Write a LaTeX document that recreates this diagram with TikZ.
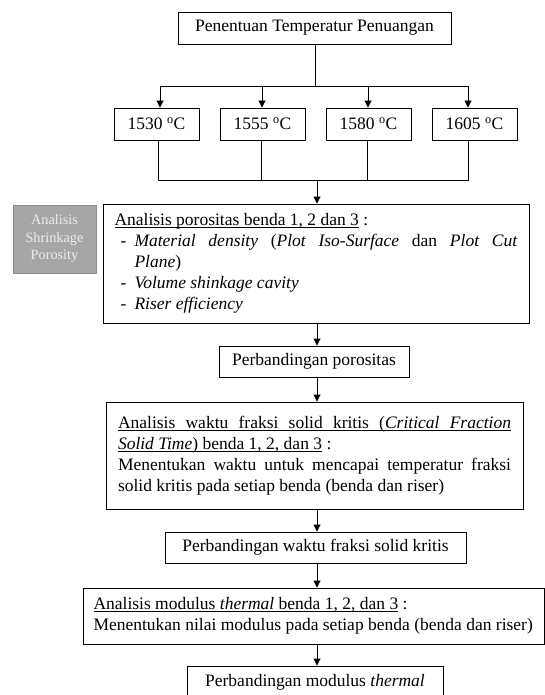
\documentclass[tikz,border=0pt]{standalone}
\usepackage{fontspec}
\setmainfont{Liberation Serif}
\usetikzlibrary{arrows.meta}
\newcommand{\ulx}[1]{\leavevmode\setbox0=\hbox{#1}\rlap{\rule[-2.2pt]{\wd0}{0.7pt}}\box0\relax}
\newcommand{\jline}[2]{\makebox[#1][s]{\spaceskip=0pt\xspaceskip=0pt #2}}
\newcommand{\itm}{\makebox[20pt][l]{\hspace{6pt}-}}
\definecolor{grayfill}{HTML}{A6A6A6}
\definecolor{graybd}{HTML}{8C8C8C}
\definecolor{graytxt}{HTML}{EDEDED}
\begin{document}
\begin{tikzpicture}[x=1pt,y=-1pt,
  box/.style={draw=black,line width=0.9pt,inner sep=0pt,font=\fontsize{17.5pt}{21pt}\selectfont,align=center,
    execute at begin node={\spaceskip=0pt\xspaceskip=0pt}},
  arr/.style={line width=0.9pt,-{Triangle[length=7pt,width=7pt]}},
  ln/.style={line width=0.9pt}]
\useasboundingbox (0,0) rectangle (545,695);
\clip (0,0) rectangle (545,695);

% top
\node[box,minimum width=273pt,minimum height=32pt] (top) at (314.5,28) {Penentuan Temperatur Penuangan};
% temperatures
\node[box,minimum width=85pt,minimum height=32pt] (t1) at (156.5,124) {1530 \textsuperscript{o}C};
\node[box,minimum width=85pt,minimum height=32pt] (t2) at (262.5,124) {1555 \textsuperscript{o}C};
\node[box,minimum width=85pt,minimum height=32pt] (t3) at (368.5,124) {1580 \textsuperscript{o}C};
\node[box,minimum width=85pt,minimum height=32pt] (t4) at (474.5,124) {1605 \textsuperscript{o}C};

% upper bus
\coordinate (s0) at (315,86);
\coordinate (s1) at (160,86);
\coordinate (s2) at (262,86);
\coordinate (s3) at (368,86);
\coordinate (s4) at (468,86);
\draw[ln] (top.south -| s0) -- (s0);
\draw[ln] (s1) -- (s4);
\draw[arr] (s1) -- (s1 |- t1.north);
\draw[arr] (s2) -- (s2 |- t2.north);
\draw[arr] (s3) -- (s3 |- t3.north);
\draw[arr] (s4) -- (s4 |- t4.north);

% lower bus
\coordinate (u1) at (158,180);
\coordinate (u2) at (261,180);
\coordinate (u3) at (367,180);
\coordinate (u4) at (468,180);
\coordinate (u0) at (317,180);
\draw[ln] (t1.south -| u1) -- (u1) -- (u4) -- (t4.south -| u4);
\draw[ln] (t2.south -| u2) -- (u2);
\draw[ln] (t3.south -| u3) -- (u3);

% gray side box
\node[draw=graybd,line width=0.8pt,fill=grayfill,text=graytxt,minimum width=83pt,minimum height=68pt,
      font=\fontsize{14.3pt}{17.5pt}\selectfont,align=center,inner sep=0pt] (gray) at (54.5,239) {Analisis\\Shrinkage\\Porosity};

% main analysis box
\node[box,text width=403pt,inner xsep=11.5pt,minimum height=119pt,align=left] (main) at (316,263.5) {%
\ulx{Analisis porositas benda 1, 2 dan 3} :\\
\itm\jline{383pt}{\textit{Material density} (\textit{Plot Iso-Surface} dan \textit{Plot Cut}}\\
\hspace*{20pt}\textit{Plane})\\
\itm\textit{Volume shinkage cavity}\\
\itm\textit{Riser efficiency}};
\draw[arr] (u0) -- (u0 |- main.north);

\coordinate (c) at (317,0);
\node[box,minimum width=190pt,minimum height=31pt] (por) at (314,361.5) {Perbandingan porositas};
\node[box,text width=393pt,inner xsep=12pt,minimum height=107pt,align=left] (crit) at (314.5,455.5) {%
\ulx{\jline{393pt}{Analisis waktu fraksi solid kritis (\textit{Critical Fraction}}}\\
\ulx{\textit{Solid Time}) benda 1, 2, dan 3} :\\
\jline{393pt}{Menentukan waktu untuk mencapai temperatur fraksi}\\
solid kritis pada setiap benda (benda dan riser)};
\node[box,minimum width=301pt,minimum height=31pt] (wkt) at (315.5,547.5) {Perbandingan waktu fraksi solid kritis};
\node[box,text width=440pt,inner xsep=10.5pt,minimum height=56pt,align=left] (mod) at (313.5,616) {%
\ulx{Analisis modulus \textit{thermal} benda 1, 2, dan 3} :\\
\mbox{Menentukan nilai modulus pada setiap benda (benda dan riser)}};
\node[box,minimum width=256pt,minimum height=32pt] (last) at (315,682) {Perbandingan modulus \textit{thermal}};

\draw[arr] (main.south -| c) -- (por.north -| c);
\draw[arr] (por.south -| c) -- (crit.north -| c);
\draw[arr] (crit.south -| c) -- (wkt.north -| c);
\draw[arr] (wkt.south -| c) -- (mod.north -| c);
\draw[arr] (mod.south -| c) -- (last.north -| c);
\end{tikzpicture}
\end{document}
